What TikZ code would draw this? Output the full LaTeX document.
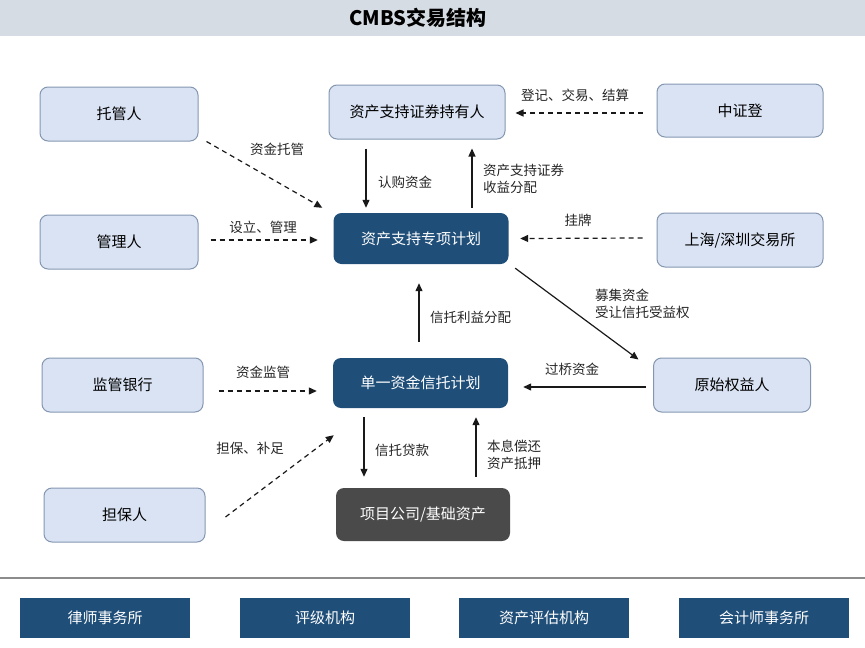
\documentclass[tikz,border=0pt]{standalone}
\usepackage{fontspec}
\setmainfont{Noto Sans CJK SC}
\usetikzlibrary{arrows.meta}
\definecolor{lightbox}{HTML}{DAE3F3}
\definecolor{boxedge}{HTML}{8497B0}
\definecolor{darkbox}{HTML}{1F4E79}
\definecolor{graybox}{HTML}{4A4A4A}
\definecolor{titlebar}{HTML}{D6DCE4}
\definecolor{labeltext}{HTML}{262626}
\begin{document}
\begin{tikzpicture}[x=1pt,y=-1pt,
  lbox/.style={draw=boxedge, fill=lightbox, rounded corners=8pt, line width=1pt,
    minimum width=158pt, minimum height=54pt, inner sep=0pt,
    font=\fontsize{15}{18}\selectfont, text=black},
  dbox/.style={fill=darkbox, rounded corners=8pt, minimum width=175pt,
    minimum height=51pt, inner sep=0pt, font=\fontsize{15}{18}\selectfont, text=white},
  gbox/.style={dbox, fill=graybox},
  bbox/.style={fill=darkbox, minimum width=170pt, minimum height=40pt, inner sep=0pt,
    font=\fontsize{15}{18}\selectfont, text=white},
  arr/.style={draw=black!90, line width=1.2pt, -{Triangle[length=8pt,width=7pt]}},
  dasharr/.style={arr, dash pattern=on 5pt off 4pt},
  lab/.style={font=\fontsize{13.5}{17}\selectfont, text=labeltext, inner sep=0pt, align=left}
]
\useasboundingbox (0,0) rectangle (865,648);
\fill[titlebar] (0,0) rectangle (865,36);
\node[font=\fontsize{20}{24}\selectfont\bfseries] (title) at (418,18) {CMBS交易结构};

% light nodes
\node[lbox] (tg) at (119,114) {托管人};
\node[lbox] (gl) at (119,242) {管理人};
\node[lbox, minimum width=161pt] (jg) at (122.5,385) {监管银行};
\node[lbox, minimum width=161pt] (db) at (124.5,515) {担保人};
\node[lbox, minimum width=176pt] (cy) at (417,112) {资产支持证券持有人};
\node[lbox, minimum width=166pt, minimum height=53pt] (zz) at (740,110.5) {中证登};
\node[lbox, minimum width=166pt] (jys) at (740,240) {上海/深圳交易所};
\node[lbox, minimum width=157pt] (ys) at (732,385) {原始权益人};

% dark nodes
\node[dbox] (zx) at (421,238.5) {资产支持专项计划};
\node[dbox, minimum height=50pt] (xt) at (420.5,383) {单一资金信托计划};
\node[gbox, minimum width=174pt, minimum height=53pt] (xm) at (423,514.5) {项目公司/基础资产};

% connectors
\draw[dasharr] ([xshift=8pt]tg.south east) -- ([xshift=-11pt,yshift=5pt]zx.north west);
\node[lab] (l1) at (277,149) {资金托管};
\draw[dasharr] ([xshift=12pt,yshift=2pt]gl.east) -- ([xshift=-15.5pt,yshift=-1.5pt]zx.west);
\node[lab] (l2) at (263,227) {设立、管理};
\draw[arr] ([xshift=-51pt,yshift=-9pt]cy.south) -- ([xshift=-55pt,yshift=5pt]zx.north);
\node[lab, anchor=west] (l3) at (378,182) {认购资金};
\draw[arr] ([xshift=51pt,yshift=5pt]zx.north) -- ([xshift=55pt,yshift=-9pt]cy.south);
\node[lab, anchor=west] (l4) at (483,179) {资产支持证券\\收益分配};
\draw[dasharr] ([xshift=-14pt,yshift=-2.5pt]zz.west) -- ([xshift=10pt,yshift=-1pt]cy.east);
\node[lab] (l5) at (575,95) {登记、交易、结算};
\draw[dasharr] ([xshift=-14pt,yshift=2pt]jys.west) -- ([xshift=11.5pt]zx.east);
\node[lab] (l6) at (578,220) {挂牌};
\draw[arr] ([xshift=6.5pt,yshift=-4pt]zx.south east) -- ([xshift=-14.5pt,yshift=-2pt]ys.north west);
\node[lab, anchor=west] (l7) at (595,304) {募集资金\\受让信托受益权};
\draw[arr] ([xshift=-1.5pt,yshift=16pt]xt.north) -- ([xshift=-2pt,yshift=-19pt]zx.south);
\node[lab, anchor=west] (l8) at (430,317) {信托利益分配};
\draw[arr] ([xshift=-7.5pt,yshift=-2pt]ys.west) -- ([xshift=15pt,yshift=-4pt]xt.east);
\node[lab] (l9) at (572,369) {过桥资金};
\draw[arr] ([xshift=-56.5pt,yshift=-9pt]xt.south) -- ([xshift=-59pt,yshift=11pt]xm.north);
\node[lab, anchor=west] (l10) at (375,450) {信托贷款};
\draw[arr] ([xshift=53pt,yshift=11pt]xm.north) -- ([xshift=55.5pt,yshift=-9pt]xt.south);
\node[lab, anchor=west] (l11) at (487,455) {本息偿还\\资产抵押};
\draw[dasharr] ([xshift=15pt,yshift=-6pt]jg.east) -- ([xshift=-16pt,yshift=-8pt]xt.west);
\node[lab] (l12) at (263,372) {资金监管};
\draw[dasharr] ([xshift=20pt,yshift=-2pt]db.east) -- ([xshift=1pt,yshift=-27pt]xt.south west);
\node[lab] (l13) at (250,448) {担保、补足};

% bottom
\draw[line width=2pt, draw=black!45] (0,578) -- (865,578);
\node[bbox] (b1) at (105,618) {律师事务所};
\node[bbox] (b2) at (325,618) {评级机构};
\node[bbox] (b3) at (544,618) {资产评估机构};
\node[bbox] (b4) at (764,618) {会计师事务所};
\end{tikzpicture}
\end{document}
